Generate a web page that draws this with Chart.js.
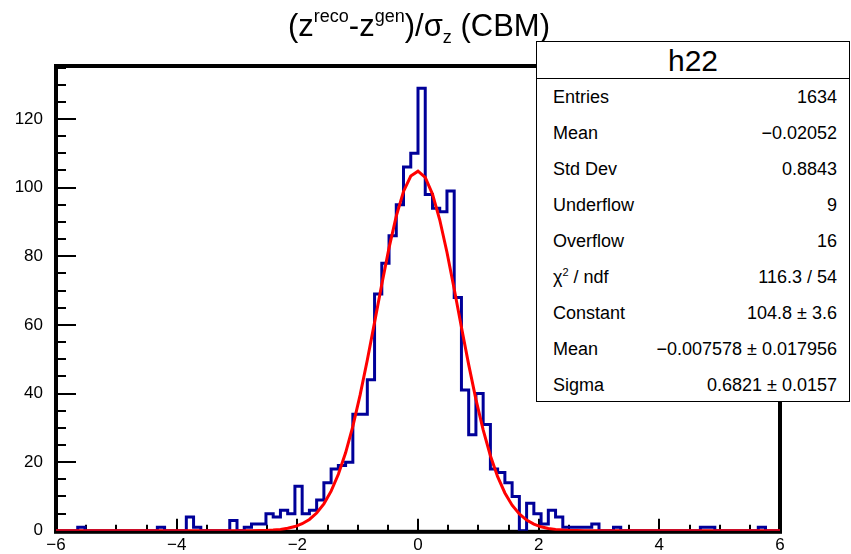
<!DOCTYPE html>
<html><head><meta charset="utf-8">
<script src="https://cdn.jsdelivr.net/npm/chart.js@4/dist/chart.umd.min.js"></script>
<style>
html,body{margin:0;padding:0;background:#fff;}
#wrap{position:relative;width:851px;height:554px;overflow:hidden;font-family:"Liberation Sans",Arial,Helvetica,sans-serif;color:#000;}
#c{position:absolute;left:0;top:0;}
#title{position:absolute;left:0;width:838px;top:8px;text-align:center;font-size:31px;line-height:36px;white-space:nowrap;}
#title sup{font-size:18px;vertical-align:0;position:relative;top:-14px;line-height:0;}
#title sub{font-size:18px;vertical-align:0;position:relative;top:7px;line-height:0;}
#stats{position:absolute;left:536px;top:41px;width:314px;height:361px;border:1px solid #000;box-sizing:border-box;background:#fff;}
#stats .hd{height:37px;line-height:37px;text-align:center;font-size:30px;border-bottom:1px solid #000;box-sizing:border-box;}
#stats .row{height:36px;line-height:36px;font-size:18px;display:flex;justify-content:space-between;padding:0 12px 0 16px;white-space:nowrap;}
#stats .row sup{font-size:11px;vertical-align:0;position:relative;top:-7px;line-height:0;}
</style></head>
<body>
<div id="wrap">
<canvas id="c" width="851" height="554"></canvas>
<div id="title">(z<sup>reco</sup>-z<sup>gen</sup>)/σ<sub>z</sub> (CBM)</div>
<div id="stats"><div class="hd" id="statsName"></div><div id="statsRows"></div></div>
</div>
<script>
// ---- data ----
const xMin = -6, xMax = 6, nBins = 100;
const counts = [
  0,0,0,1,0,0,0,0,0,0,
  0,0,0,0,1,0,0,0,4,1,
  0,0,0,0,3,0,1,2,2,5,
  4,6,5,13,5,6,9,14,18,19,
  20,34,34,44,69,78,86,95,106,110,
  129,98,94,93,99,68,41,28,40,31,
  18,17,14,10,0,8,5,2,6,4,
  1,1,1,1,2,0,0,1,0,0,
  0,0,0,0,0,0,0,0,0,1,
  1,0,0,0,0,0,0,1,0,0
];
const xTickValues = [-6,-4,-2,0,2,4,6];
const yTickValues = [0,20,40,60,80,100,120];
const yMax = 135.45;
const fitConstant = 104.8, fitMean = -0.007578, fitSigma = 0.6821;
const statsName = "h22";
const statLabels = ["Entries","Mean","Std Dev","Underflow","Overflow","χ<sup>2</sup> / ndf","Constant","Mean","Sigma"];
const statValues = ["1634","\u22120.02052","0.8843","9","16","116.3 / 54","104.8 \u00b1 3.6","\u22120.007578 \u00b1 0.017956","0.6821 \u00b1 0.0157"];

// ---- stats box ----
document.getElementById('statsName').textContent = statsName;
document.getElementById('statsRows').innerHTML = statLabels.map((l,i)=>
  '<div class="row"><span>'+l+'</span><span>'+statValues[i]+'</span></div>').join('');

// ---- build series ----
const binW = (xMax - xMin) / nBins;
const histPts = counts.map((c,i)=>({x: xMin + i*binW, y: c}));
histPts.push({x: xMax, y: counts[nBins-1]});
const fitPts = [];
const nFit = 100;
for (let i = 0; i <= nFit; i++) {
  const x = xMin + (xMax - xMin) * i / nFit;
  fitPts.push({x: x, y: fitConstant * Math.exp(-0.5 * Math.pow((x - fitMean) / fitSigma, 2))});
}
const fmt = v => (v < 0 ? '\u2212' + Math.abs(v) : String(v));
const FONT = '"Liberation Sans", Arial, Helvetica, sans-serif';

const framePlugin = {
  id: 'rootFrame',
  beforeDatasetsDraw(chart) {
    const ctx = chart.ctx, ca = chart.chartArea;
    const xs = chart.scales.x, ys = chart.scales.y;
    ctx.save();
    ctx.strokeStyle = '#000';
    ctx.lineWidth = 2;
    ctx.beginPath();
    for (let v = 0; v <= yMax + 1e-9; v += 5) {
      const p = Math.round(ys.getPixelForValue(v));
      const len = (v % 20 === 0) ? 20 : 10;
      ctx.moveTo(ca.left, p); ctx.lineTo(ca.left + len, p);
    }
    for (let v = xMin; v <= xMax + 1e-9; v += 0.5) {
      const p = Math.round(xs.getPixelForValue(v));
      const len = (Math.abs(v % 2) < 1e-9) ? 12 : 6;
      ctx.moveTo(p, ca.bottom); ctx.lineTo(p, ca.bottom - len);
    }
    ctx.stroke();
    ctx.lineWidth = 4;
    ctx.strokeRect(ca.left, ca.top, ca.right - ca.left, ca.bottom - ca.top + 1);
    ctx.restore();
  }
};

new Chart(document.getElementById('c'), {
  type: 'line',
  data: {
    datasets: [
      {label: 'fit', data: fitPts, borderColor: '#ff0000', borderWidth: 3, pointRadius: 0, tension: 0, fill: false, order: 0},
      {label: 'h22', data: histPts, borderColor: '#000099', borderWidth: 3, pointRadius: 0, stepped: 'before', fill: false, order: 1}
    ]
  },
  options: {
    responsive: false, animation: false, devicePixelRatio: 1,
    layout: {padding: {left: 0, top: 66, right: 71, bottom: 0}},
    plugins: {legend: {display: false}, tooltip: {enabled: false}, title: {display: false}},
    scales: {
      x: {type: 'linear', min: xMin, max: xMax,
          grid: {display: false, drawTicks: false}, border: {display: false},
          ticks: {color: '#000', font: {family: FONT, size: 17}, padding: 4, maxRotation: 0, autoSkip: false, callback: v => fmt(v)},
          afterBuildTicks: s => { s.ticks = xTickValues.map(v => ({value: v})); },
          afterFit: s => { s.height = 22; }},
      y: {type: 'linear', min: 0, max: yMax,
          grid: {display: false, drawTicks: false}, border: {display: false},
          ticks: {color: '#000', font: {family: FONT, size: 17}, padding: 13, autoSkip: false, callback: v => fmt(v)},
          afterBuildTicks: s => { s.ticks = yTickValues.map(v => ({value: v})); },
          afterFit: s => { s.width = 56; }}
    }
  },
  plugins: [framePlugin]
});
</script>
</body></html>
